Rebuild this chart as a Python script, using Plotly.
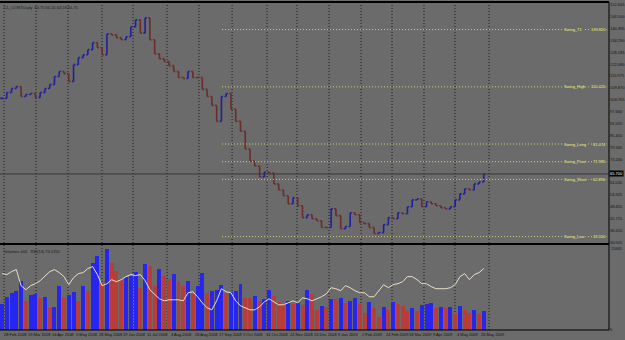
import plotly.graph_objects as go

# ---------------- data ----------------
# one bar every 3 trading days, starting 28 Feb 2008
closes = [
    104.5, 107.5, 109.6, 110.6, 105.5, 106.5, 107.0, 105.0, 107.5, 109.6,
    111.6, 115.7, 118.3, 117.2, 113.2, 121.8, 125.4, 126.9, 129.5, 133.1,
    130.5, 126.9, 137.6, 137.1, 135.6, 134.6, 136.1, 141.2, 144.8, 138.0,
    145.8, 134.6, 127.4, 124.9, 123.4, 121.3, 118.3, 115.2, 114.7, 118.3,
    115.2, 115.2, 109.1, 105.5, 100.9, 92.7, 105.5, 107.0, 98.9, 92.7,
    87.6, 78.5, 72.3, 69.8, 64.2, 66.7, 66.2, 60.6, 57.5, 54.5,
    50.4, 53.5, 49.4, 43.3, 44.8, 42.7, 41.7, 38.2, 38.2, 47.8,
    44.3, 37.6, 38.7, 45.8, 44.8, 40.7, 40.2, 38.2, 35.1, 35.6,
    39.7, 43.3, 42.7, 45.8, 45.3, 48.9, 52.4, 52.9, 48.9, 51.4,
    50.4, 49.4, 48.4, 47.8, 48.9, 52.4, 55.5, 58.1, 57.5, 60.6,
    61.6, 65.7,
]
volumes = [
    3610, 4590, 5140, 5420, 6810, 4030, 4860, 5000, 4450, 4590,
    3060, 3200, 6120, 4590, 4860, 5280, 4030, 6120, 5420, 9310,
    10290, 6530, 11260, 9310, 8200, 7090, 7370, 7510, 8060, 5840,
    9170, 8900, 6120, 8480, 7510, 7090, 7780, 6810, 6120, 6810,
    5000, 6120, 7920, 5140, 5420, 5560, 6260, 5140, 5280, 5420,
    6390, 4450, 4450, 4730, 4030, 4310, 5560, 4730, 3890, 3610,
    4030, 3610, 3750, 3480, 5560, 5000, 2780, 3340, 3200, 4310,
    4310, 4450, 3750, 4030, 4450, 3610, 2360, 3890, 3060, 1810,
    3200, 2780, 3890, 3610, 3340, 2640, 3060, 2640, 3480, 3610,
    3750, 3060, 3200, 3060, 3200, 2220, 3340, 2780, 2360, 2780,
    2220, 2640,
]
vol_line = [
    7780, 7650, 8060, 8340, 6120, 5560, 6120, 6390, 6810, 7510,
    8060, 8340, 7920, 7370, 6260, 7230, 7780, 7920, 8480, 8760,
    7650, 6120, 6390, 6950, 6670, 6950, 7370, 7650, 7510, 7650,
    6810, 5560, 4870, 4310, 4030, 4170, 4170, 4170, 4030, 5140,
    5280, 4590, 3750, 3060, 2780, 4030, 5700, 5280, 5140, 4030,
    3340, 3060, 2780, 2780, 3200, 3890, 4310, 3890, 3480, 3480,
    3750, 4030, 3750, 4450, 4310, 4030, 4310, 4590, 5000, 5840,
    5700, 5420, 6120, 5840, 5420, 5140, 5140, 4590, 4590, 5420,
    6260, 5840, 6260, 6390, 6670, 7370, 7370, 6950, 6390, 6390,
    5980, 5700, 5700, 5700, 5840, 6260, 7370, 7780, 6950, 7650,
    7920, 8480,
]
date_labels = [
    "28 Feb 2008", "19 Mar 2008", "14 Apr 2008", "5 May 2008", "28 May 2008",
    "19 Jun 2008", "11 Jul 2008", "4 Aug 2008", "26 Aug 2008", "17 Sep 2008",
    "9 Oct 2008", "31 Oct 2008", "24 Nov 2008", "16 Dec 2008", "9 Jan 2009",
    "2 Feb 2009", "24 Feb 2009", "18 Mar 2009", "9 Apr 2009", "4 May 2009",
    "26 May 2009",
]
# month boundaries in trading-day units (grid separators)
month_boundaries = [1.3, 21.4, 41.5, 62.9, 82.4, 103.8, 123.9, 144.7, 166.7,
                    185.5, 205.7, 225.8, 245.3, 265.4, 284.9, 306.3]
swing_names = ["Swing_T1", "Swing_High", "Swing_Long", "Swing_Pivot", "Swing_Short", "Swing_Low"]
swing_values = [139.820, 110.420, 81.074, 71.985, 62.896, 33.550]
swing_start_day = 138.4
price_ticks = [30.505, 36.610, 42.715, 48.820, 54.925, 61.030, 73.240,
               79.345, 85.450, 91.555, 97.660, 103.765, 109.870, 115.975,
               122.080, 128.185, 134.290, 140.395, 146.500, 152.605]
volume_max = 11665
title_text = "CL_CONT,Daily  64.75 66.20 64.59 65.71"
vol_title = "Volumes 400   RSI(14) 74.0155"

# ---------------- derived ----------------
step = 3
days = [i * step for i in range(len(closes))]
opens = [closes[0]] + closes[:-1]
highs = [max(o, c) for o, c in zip(opens, closes)]
lows = [min(o, c) for o, c in zip(opens, closes)]
vol_colors = ["#2626ee" if (i == 0 or v > volumes[i - 1]) else "#b83c38"
              for i, v in enumerate(volumes)]
label_days = [i * 15 for i in range(len(date_labels))]

W, H = 625, 340
ML, MR, MT, MB = 0, 16, 0, 10
PH = H - MT - MB
PW = W - ML - MR


def py(pix):  # pixel row -> paper y
    return (PH - pix) / PH


BG = "#6b6b6b"
FONT = "Liberation Sans"

price_dom = [py(243), py(2)]
vol_dom = [0, py(245)]
px_per_day = 1.59
x_range = [-2 / px_per_day, (PW - 2) / px_per_day]
price_per_px = 0.5102
price_range = [30.5 - 1 * price_per_px, 30.5 + 240 * price_per_px]

fig = go.Figure()
fig.add_trace(go.Bar(
    x=days, y=volumes, marker_color=vol_colors, marker_line_width=0,
    width=2.5, xaxis="x", yaxis="y2", hoverinfo="skip", showlegend=False))
fig.add_trace(go.Scatter(
    x=days, y=vol_line, mode="lines", line=dict(color="#e8dfc8", width=1),
    xaxis="x", yaxis="y2", hoverinfo="skip", showlegend=False))
fig.add_trace(go.Ohlc(
    x=days, open=opens, high=highs, low=lows, close=closes,
    increasing_line_color="#20209c", decreasing_line_color="#6a2c2c",
    line_width=1.6, tickwidth=0.35, xaxis="x", yaxis="y",
    hoverinfo="skip", showlegend=False))

shapes = []
for d in month_boundaries:
    shapes.append(dict(type="line", xref="x", yref="paper", x0=d, x1=d, y0=0, y1=1,
                       line=dict(color="#1a1a1a", width=1, dash="1px,2px"), layer="below"))
for v in swing_values:
    shapes.append(dict(type="line", xref="x", yref="y", x0=swing_start_day, x1=x_range[1],
                       y0=v, y1=v, line=dict(color="#d2d272", width=1, dash="1px,2px")))
# current price line
shapes.append(dict(type="line", xref="paper", yref="y", x0=0, x1=1, y0=closes[-1], y1=closes[-1],
                   line=dict(color="#383838", width=1)))
# frame lines
shapes.append(dict(type="line", xref="paper", yref="paper", x0=0, x1=1, y0=1, y1=1,
                   line=dict(color="#000000", width=2)))
shapes.append(dict(type="line", xref="paper", yref="paper", x0=0, x1=1, y0=py(243.5), y1=py(243.5),
                   line=dict(color="#000000", width=2)))
shapes.append(dict(type="line", xref="paper", yref="paper", x0=0, x1=1, y0=0, y1=0,
                   line=dict(color="#000000", width=1)))
shapes.append(dict(type="line", xref="paper", yref="paper", x0=1, x1=1, y0=0, y1=1,
                   line=dict(color="#000000", width=1)))

ann = []
for name, v in zip(swing_names, swing_values):
    ann.append(dict(text=name, xref="paper", yref="y", x=563 / PW, y=v, xanchor="left",
                    yanchor="middle", showarrow=False, bgcolor=BG, borderpad=0,
                    font=dict(family=FONT, size=4, color="#f2f27a")))
    ann.append(dict(text=f"{v:.3f}", xref="paper", yref="y", x=607 / PW, y=v, xanchor="right",
                    yanchor="middle", showarrow=False, bgcolor=BG, borderpad=0,
                    font=dict(family=FONT, size=4, color="#f2f27a")))
for d, t in zip(label_days, date_labels):
    ann.append(dict(text=t, xref="x", yref="paper", x=d, y=py(330.5), xanchor="left",
                    yanchor="top", showarrow=False,
                    font=dict(family=FONT, size=4, color="#111111")))
ann.append(dict(text=title_text, xref="paper", yref="paper", x=2 / PW, y=py(1.5),
                xanchor="left", yanchor="top", showarrow=False,
                font=dict(family=FONT, size=4, color="#1a1a1a")))
ann.append(dict(text=vol_title, xref="paper", yref="paper", x=2 / PW, y=py(246),
                xanchor="left", yanchor="top", showarrow=False,
                font=dict(family=FONT, size=4, color="#1a1a1a")))
ann.append(dict(text=f"{closes[-1]:.3f}", xref="paper", yref="y", x=1.0, y=closes[-1],
                xanchor="left", yanchor="middle", showarrow=False, bgcolor="#000000",
                borderpad=0, font=dict(family=FONT, size=4, color="#ffffff")))
ann.append(dict(text=str(volume_max), xref="paper", yref="paper", x=1.0, y=py(248),
                xanchor="left", yanchor="middle", showarrow=False,
                font=dict(family=FONT, size=4, color="#111111")))

fig.update_layout(
    width=W, height=H, margin=dict(l=ML, r=MR, t=MT, b=MB),
    paper_bgcolor=BG, plot_bgcolor=BG, showlegend=False,
    bargap=0, shapes=shapes, annotations=ann,
    xaxis=dict(range=x_range, anchor="y2", showgrid=False, zeroline=False,
               showticklabels=False, ticks="", rangeslider=dict(visible=False),
               fixedrange=True),
    yaxis=dict(domain=price_dom, range=price_range, anchor="x", side="right",
               tickvals=price_ticks, ticktext=[f"{v:.3f}" for v in price_ticks],
               tickfont=dict(family=FONT, size=4, color="#111111"),
               showgrid=False, zeroline=False, ticks="", fixedrange=True),
    yaxis2=dict(domain=vol_dom, range=[0, volume_max], anchor="x", side="right",
                tickvals=[0], ticktext=["0"],
                tickfont=dict(family=FONT, size=4, color="#111111"),
                showgrid=False, zeroline=False, ticks="", fixedrange=True),
)

fig.write_html("out.html")
